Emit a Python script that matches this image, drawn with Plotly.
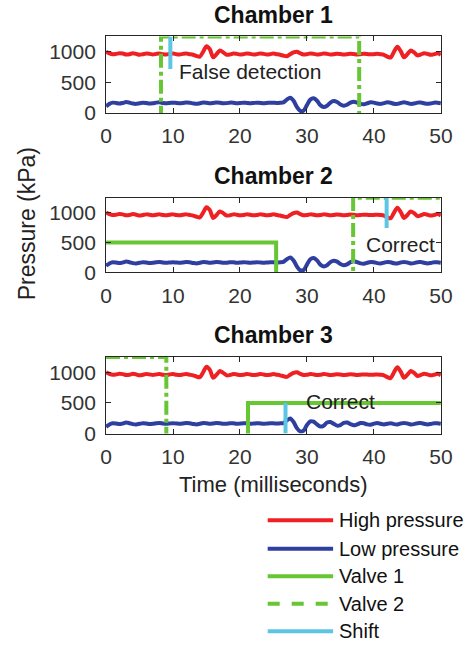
import numpy as np
import plotly.graph_objects as go

# ---------------- data ----------------
TIME_MS = np.linspace(0, 50, 101)  # sample grid, 0.5 ms steps

HIGH_PRESSURE = [
    1000, 975, 960, 965, 975, 970, 955, 960, 975, 965,
    950, 960, 970, 965, 955, 965, 970, 960, 955, 965,
    970, 960, 955, 965, 970, 960, 950, 930, 920, 1000,
    1090, 1040, 910, 960, 1020, 990, 950, 955, 970, 965,
    955, 960, 970, 965, 955, 960, 970, 965, 955, 960,
    970, 960, 950, 935, 925, 960, 990, 1000, 975, 955,
    960, 970, 965, 955, 960, 970, 965, 955, 960, 968,
    962, 955, 960, 968, 962, 955, 960, 965, 962, 958,
    960, 965, 960, 950, 920, 905, 1000, 1080, 1010, 910,
    960, 1020, 990, 940, 955, 975, 965, 950, 960, 975,
    950,
]

LOW_PRESSURE_1_2 = [
    110, 150, 170, 165, 155, 165, 180, 170, 155, 150,
    160, 170, 165, 155, 160, 170, 175, 165, 160, 165,
    170, 165, 160, 165, 172, 168, 158, 150, 160, 172,
    168, 160, 165, 172, 168, 160, 162, 170, 168, 160,
    163, 170, 166, 160, 164, 170, 166, 160, 164, 170,
    168, 165, 168, 175, 220, 250, 200, 100, 35, 40,
    130, 220, 240, 200, 130, 100, 120, 170, 195, 180,
    140, 120, 135, 170, 185, 170, 150, 145, 160, 175,
    170, 155, 150, 162, 175, 168, 152, 150, 165, 175,
    165, 150, 155, 170, 172, 160, 150, 158, 170, 168,
    160,
]

LOW_PRESSURE_3 = [
    110, 150, 170, 165, 155, 165, 180, 170, 155, 150,
    160, 170, 165, 155, 160, 170, 175, 165, 160, 165,
    170, 165, 160, 165, 172, 168, 158, 150, 160, 172,
    168, 160, 165, 172, 168, 160, 162, 170, 168, 160,
    163, 170, 166, 160, 164, 170, 166, 160, 164, 170,
    168, 165, 168, 170, 215, 245, 190, 90, 35, 50,
    140, 200, 195, 150, 115, 130, 180, 190, 160, 130,
    140, 175, 180, 155, 135, 150, 172, 170, 150, 145,
    162, 172, 160, 150, 160, 170, 155, 150, 165, 175,
    165, 150, 155, 170, 172, 160, 150, 158, 170, 168,
    160,
]

CHAMBERS = ["Chamber 1", "Chamber 2", "Chamber 3"]

# valve state change points (time in ms, state 0/1), drawn as steps
VALVE1_TIMES = [[0, 50], [0, 25.4, 50], [0, 21.2, 50]]
VALVE1_STATES = [[0, 0], [1, 0, 0], [0, 1, 1]]
VALVE2_TIMES = [[0, 8.2, 37.8, 50], [0, 36.9, 50], [0, 9.0, 50]]
VALVE2_STATES = [[0, 1, 0, 0], [0, 1, 1], [1, 0, 0]]

# shift events (time in ms, pressure span in kPa)
SHIFT_TIME = [9.6, 41.9, 26.8]
SHIFT_TOP = [1250, 1250, 500]
SHIFT_BOTTOM = [720, 740, 0]

# event annotations
EVENT_TEXT = ["False detection", "Correct", "Correct"]
EVENT_X = [21.5, 43.9, 35.0]
EVENT_Y = [670, 470, 520]

X_TICKS = [0, 10, 20, 30, 40, 50]
Y_TICKS = [0, 500, 1000]

# ---------------- styling ----------------
W, H = 475, 657
RED = "#ee2024"
BLUE = "#2f3f9f"
GREEN = "#66c633"
CYAN = "#5cc6e4"
AX = "#262626"
FONT = "Liberation Sans, Arial, sans-serif"

VALVE1_LEVEL = 500
VALVE2_LEVEL = 1250
OFF_LEVEL = -60  # drawn below the axis floor like the original

X0, X1 = 104, 452
BOXES = [(37, 115), (201, 277), (363, 441)]  # (top px, bottom px)

def py(p):
    return 1 - p / H

fig = go.Figure()
low_sets = [LOW_PRESSURE_1_2, LOW_PRESSURE_1_2, LOW_PRESSURE_3]

for i in range(3):
    xa = "x" if i == 0 else f"x{i+1}"
    ya = "y" if i == 0 else f"y{i+1}"
    fig.add_trace(go.Scatter(x=TIME_MS, y=HIGH_PRESSURE, mode="lines", line=dict(color=RED, width=4, shape="spline", smoothing=0.8),
                             xaxis=xa, yaxis=ya, showlegend=False, name="High pressure"))
    fig.add_trace(go.Scatter(x=TIME_MS, y=low_sets[i], mode="lines", line=dict(color=BLUE, width=4, shape="spline", smoothing=0.8),
                             xaxis=xa, yaxis=ya, showlegend=False, name="Low pressure"))
    v1 = [VALVE1_LEVEL if s else OFF_LEVEL for s in VALVE1_STATES[i]]
    fig.add_trace(go.Scatter(x=VALVE1_TIMES[i], y=v1, mode="lines", line=dict(color=GREEN, width=4, shape="hv"),
                             xaxis=xa, yaxis=ya, showlegend=False, name="Valve 1"))
    v2 = [VALVE2_LEVEL if s else OFF_LEVEL for s in VALVE2_STATES[i]]
    fig.add_trace(go.Scatter(x=VALVE2_TIMES[i], y=v2, mode="lines", line=dict(color=GREEN, width=4, shape="hv", dash="14px,4px,4px,4px"),
                             xaxis=xa, yaxis=ya, showlegend=False, name="Valve 2"))
    fig.add_trace(go.Scatter(x=[SHIFT_TIME[i], SHIFT_TIME[i]], y=[SHIFT_TOP[i], SHIFT_BOTTOM[i]], mode="lines",
                             line=dict(color=CYAN, width=4), xaxis=xa, yaxis=ya, showlegend=False, name="Shift"))

layout = dict(
    width=W, height=H, margin=dict(l=0, r=0, t=0, b=0),
    paper_bgcolor="white", plot_bgcolor="white",
    font=dict(family=FONT, color=AX),
    showlegend=False,
)
annotations = []
shapes = []
for i in range(3):
    top, bot = BOXES[i]
    xk = "xaxis" if i == 0 else f"xaxis{i+1}"
    yk = "yaxis" if i == 0 else f"yaxis{i+1}"
    ya = "y" if i == 0 else f"y{i+1}"
    xa = "x" if i == 0 else f"x{i+1}"
    common = dict(showline=True, linecolor=AX, linewidth=1, mirror="ticks", ticks="inside", ticklen=5,
                  tickcolor=AX, showgrid=False, zeroline=False, tickfont=dict(size=21, color="#333", family=FONT))
    layout[xk] = dict(domain=[X0 / W, X1 / W], anchor=ya, range=[0, 50], tickvals=X_TICKS,
                      ticklabelstandoff=4, **common)
    layout[yk] = dict(domain=[py(bot), py(top)], anchor=xa, range=[0, 1250], tickvals=Y_TICKS,
                      ticklabelstandoff=5, **common)
    annotations.append(dict(text=f"<b>{CHAMBERS[i]}</b>", xref="paper", yref="paper", x=(X0 + X1) / 2 / W,
                            y=py(top - 22), showarrow=False, font=dict(size=23, color="#111"), yanchor="middle"))
    annotations.append(dict(text=EVENT_TEXT[i], xref=xa, yref=ya, x=EVENT_X[i], y=EVENT_Y[i], showarrow=False,
                            font=dict(size=21, color="#222"), xanchor="center", yanchor="middle"))

annotations.append(dict(text="Pressure (kPa)", xref="paper", yref="paper", x=22 / W, y=py(228), textangle=-90,
                        showarrow=False, font=dict(size=23, color="#222"), xanchor="center", yanchor="middle"))
annotations.append(dict(text="Time (milliseconds)", xref="paper", yref="paper", x=278 / W, y=py(493),
                        showarrow=False, font=dict(size=22, color="#222"), xanchor="center", yanchor="middle"))

LEGEND_ITEMS = [("High pressure", RED, "solid"), ("Low pressure", BLUE, "solid"), ("Valve 1", GREEN, "solid"),
                ("Valve 2", GREEN, "dash"), ("Shift", CYAN, "solid")]
LEGEND_ROWS = [529, 558, 586, 614, 642]
for (label, col, dash), row in zip(LEGEND_ITEMS, LEGEND_ROWS):
    shapes.append(dict(type="line", xref="paper", yref="paper", x0=272 / W, x1=340 / W, y0=py(row), y1=py(row),
                       line=dict(color=col, width=4, dash=dash)))
    annotations.append(dict(text=label, xref="paper", yref="paper", x=344 / W, y=py(row), showarrow=False,
                            xanchor="left", yanchor="middle", font=dict(size=20, color="#111")))

layout["annotations"] = annotations
layout["shapes"] = shapes
fig.update_layout(**layout)
fig.write_html("out.html", config={"displayModeBar": False},
               post_script="document.body.style.margin='0';document.body.style.overflow='hidden';")
